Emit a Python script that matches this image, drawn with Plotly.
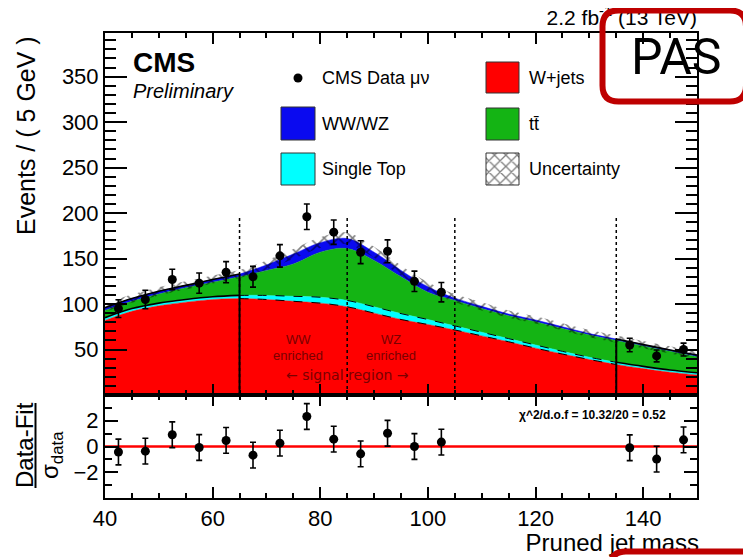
import numpy as np
import plotly.graph_objects as go

W, H = 751, 557
OFF = 8  # page body margin of the html page
FONT = "Liberation Sans, Arial, sans-serif"

# ---------------- data ----------------
mass_grid = [40, 45, 50, 55, 60, 65, 70, 75, 80, 85, 90, 95, 100, 105, 110, 115, 120, 125, 130, 135, 140, 145, 150]
wjets = [82, 92, 98, 102, 105, 106, 105, 103, 101, 97, 90, 83, 77.5, 71.5, 65, 58.5, 51.5, 45, 39, 33.5, 29, 25, 22]
single_top = [3, 3, 3, 3, 3, 3.5, 4.5, 5.5, 6.5, 7, 7, 6.5, 5.5, 4.5, 4, 3.5, 3.5, 3, 2.5, 2.5, 2.5, 2.5, 2.5]
ttbar = [8, 8, 10, 13, 16, 20.5, 27.5, 35.5, 49.5, 57, 51, 40.5, 30, 28, 26, 25, 25.5, 25, 24.5, 24, 22.5, 20.5, 17.5]
diboson = [3, 3, 3, 2.5, 3, 3, 6, 11, 10.5, 11, 9, 7, 6, 2.5, 2.5, 2, 2, 2, 1.5, 1.5, 1.5, 1.5, 2]
fit_unc = [4.5, 4.5, 4.5, 4.5, 4.5, 4.5, 5, 5.5, 6, 6.5, 6, 5.5, 5, 4.5, 4.5, 4, 4, 4, 4, 4, 4, 4, 4]

data_mass = [42.5, 47.5, 52.5, 57.5, 62.5, 67.5, 72.5, 77.5, 82.5, 87.5, 92.5, 97.5, 102.5, 137.5, 142.5, 147.5]
data_events = [95, 105, 127, 123, 135, 130, 153, 196, 179, 157, 158, 125, 113, 55, 43, 50]
pulls = [-0.43, -0.36, 0.91, -0.08, 0.47, -0.67, 0.26, 2.33, 0.57, -0.57, 1.03, 0.0, 0.34, -0.1, -0.98, 0.52]
pull_err = [1.0] * len(pulls)

signal_lo, signal_hi = 65, 135
region_edges = [65, 85, 105, 135]
edge_line_top = 197

x_ticks = [40, 60, 80, 100, 120, 140]
y_ticks = [0, 50, 100, 150, 200, 250, 300, 350]
pull_ticks = [-2, 0, 2]

# ---------------- derived stacks ----------------
g = np.array(mass_grid, float)
s1 = np.array(wjets, float)
s2 = s1 + np.array(single_top)
s3 = s2 + np.array(ttbar)
s4 = s3 + np.array(diboson)
unc = np.array(fit_unc)

C_RED, C_CYAN, C_GREEN, C_BLUE = "#FF0000", "#00FFFF", "#14B414", "#0A0AF0"


def fx(px):
    return px - OFF


def fy(py):
    return py - OFF


fig = go.Figure()


def stack(y, color, fill):
    fig.add_trace(go.Scatter(x=g, y=y, mode="lines", line=dict(color=color, width=0.5, shape="spline"),
                             fill=fill, fillcolor=color, xaxis="x", yaxis="y", hoverinfo="skip"))


stack(s1, C_RED, "tozeroy")
stack(s2, C_CYAN, "tonexty")
stack(s3, C_GREEN, "tonexty")
stack(s4, C_BLUE, "tonexty")

# uncertainty band (hatched)
fig.add_trace(go.Scatter(x=g, y=s4 - unc, mode="lines", line=dict(width=0, shape="spline"),
                         xaxis="x", yaxis="y", hoverinfo="skip"))
fig.add_trace(go.Scatter(x=g, y=s4 + unc, mode="lines", line=dict(width=0, shape="spline"),
                         fill="tonexty", fillcolor="rgba(0,0,0,0)",
                         fillpattern=dict(shape="x", fgcolor="black", size=10, solidity=0.3),
                         xaxis="x", yaxis="y", hoverinfo="skip"))

# fit lines: solid in sidebands, dashed in signal region
lo = g <= signal_lo
hi = g >= signal_hi
mid = (g >= signal_lo) & (g <= signal_hi)
for mask in (lo, hi):
    for yy in (s2, s4):
        fig.add_trace(go.Scatter(x=g[mask], y=yy[mask], mode="lines",
                                 line=dict(color="black", width=1.6, shape="spline"),
                                 xaxis="x", yaxis="y", hoverinfo="skip"))
for yy in (s1, s2):
    fig.add_trace(go.Scatter(x=g[mid], y=yy[mid], mode="lines",
                             line=dict(color="black", width=1, dash="dash", shape="spline"),
                             xaxis="x", yaxis="y", hoverinfo="skip"))

# solid vertical lines at signal region borders up to fit total
for xe in (signal_lo, signal_hi):
    fig.add_trace(go.Scatter(x=[xe, xe], y=[0, float(np.interp(xe, g, s4))], mode="lines",
                             line=dict(color="black", width=2), xaxis="x", yaxis="y", hoverinfo="skip"))

# data
fig.add_trace(go.Scatter(x=data_mass, y=data_events, mode="markers",
                         marker=dict(color="black", size=9),
                         error_y=dict(type="data", array=np.sqrt(data_events), color="black",
                                      thickness=1.6, width=3),
                         xaxis="x", yaxis="y", hoverinfo="skip"))

# pulls
fig.add_trace(go.Scatter(x=data_mass, y=pulls, mode="markers",
                         marker=dict(color="black", size=9),
                         error_y=dict(type="data", array=pull_err, color="black", thickness=1.6, width=3),
                         xaxis="x2", yaxis="y2", hoverinfo="skip"))


# ---------------- pixel overlay (legend, texts) ----------------
def box(x0, y0, x1, y1, color, pattern=False):
    kw = dict(fillpattern=dict(shape="x", fgcolor="black", size=8, solidity=0.3)) if pattern else {}
    fig.add_trace(go.Scatter(x=[fx(x0), fx(x1), fx(x1), fx(x0), fx(x0)],
                             y=[fy(y0), fy(y0), fy(y1), fy(y1), fy(y0)], mode="lines",
                             line=dict(color="#333333", width=1), fill="toself", fillcolor=color,
                             xaxis="x3", yaxis="y3", hoverinfo="skip", **kw))


box(281, 107, 315, 140, C_BLUE)
box(281, 153, 315, 185, C_CYAN)
box(486, 62, 519, 93, C_RED)
box(486, 108, 519, 140, C_GREEN)
box(486, 153, 519, 185, "white", pattern=True)
fig.add_trace(go.Scatter(x=[fx(298)], y=[fy(78)], mode="markers", marker=dict(color="black", size=9),
                         xaxis="x3", yaxis="y3", hoverinfo="skip"))


def ptext(txt, px, py, size, pos):
    fig.add_trace(go.Scatter(x=[fx(px)], y=[fy(py)], mode="text", text=[txt], textposition=pos,
                             textfont=dict(family=FONT, size=size, color="black"),
                             xaxis="x3", yaxis="y3", hoverinfo="skip", cliponaxis=False))


ptext("Pruned jet mass", 699, 545, 24, "middle left")
ptext("2.2 fb<sup>-1</sup> (13 TeV)", 697, 20, 21, "middle left")

# ---------------- axes ----------------
xd = [fx(105) / W, fx(697) / W]
yd_main = [1 - fy(395) / H, 1 - fy(33) / H]
yd_low = [1 - fy(498) / H, 1 - fy(395) / H]

common = dict(showline=True, linecolor="black", linewidth=2, mirror="allticks", ticks="inside",
              tickcolor="black", tickwidth=1.5, showgrid=False, zeroline=False, automargin=False,
              tickfont=dict(family=FONT, size=22, color="black"))

fig.update_layout(
    width=W, height=H, margin=dict(l=0, r=0, t=0, b=0),
    paper_bgcolor="white", plot_bgcolor="rgba(0,0,0,0)", showlegend=False,
    xaxis=dict(domain=xd, range=[40, 150], anchor="y", tickmode="array", tickvals=x_ticks,
               showticklabels=False, ticklen=11,
               minor=dict(tickmode="linear", tick0=40, dtick=5, ticklen=5, ticks="inside",
                          tickcolor="black", tickwidth=1.5), **common),
    yaxis=dict(domain=yd_main, range=[0, 398], anchor="x", tickmode="array", tickvals=y_ticks,
               ticktext=[""] + [str(v) for v in y_ticks[1:]], ticklen=22,
               minor=dict(tickmode="linear", tick0=0, dtick=10, ticklen=11, ticks="inside",
                          tickcolor="black", tickwidth=1.5), **common),
    xaxis2=dict(domain=xd, range=[40, 150], anchor="y2", tickmode="array", tickvals=x_ticks,
                ticklen=11,
                minor=dict(tickmode="linear", tick0=40, dtick=5, ticklen=5, ticks="inside",
                           tickcolor="black", tickwidth=1.5), **common),
    yaxis2=dict(domain=yd_low, range=[-4, 4], anchor="x2", tickmode="array", tickvals=pull_ticks,
                ticklen=13,
                minor=dict(tickmode="linear", tick0=-3, dtick=1, ticklen=7, ticks="inside",
                           tickcolor="black", tickwidth=1.5), **common),
    xaxis3=dict(domain=[0, 1], range=[0, W], anchor="y3", visible=False, fixedrange=True),
    yaxis3=dict(domain=[0, 1], range=[H, 0], anchor="x3", visible=False, fixedrange=True),
)

# ---------------- shapes ----------------
shapes = []
for xe in region_edges:
    shapes.append(dict(type="line", xref="x", yref="y", x0=xe, x1=xe, y0=0, y1=edge_line_top,
                       line=dict(color="black", width=1.5, dash="dot"), layer="above"))
shapes.append(dict(type="line", xref="x2 domain", yref="y2", x0=0, x1=1, y0=0, y1=0,
                   line=dict(color="#FF0000", width=2.5), layer="below"))


def rrect(x0, y0, x1, y1, r):
    x0, x1, y0, y1 = fx(x0), fx(x1), fy(y0), fy(y1)
    return (f"M {x0+r},{y0} L {x1-r},{y0} Q {x1},{y0} {x1},{y0+r} L {x1},{y1-r} Q {x1},{y1} {x1-r},{y1} "
            f"L {x0+r},{y1} Q {x0},{y1} {x0},{y1-r} L {x0},{y0+r} Q {x0},{y0} {x0+r},{y0} Z")


shapes.append(dict(type="path", xref="x3", yref="y3", path=rrect(602.5, 10.5, 746, 101.5, 16),
                   line=dict(color="#BE0000", width=6), fillcolor="rgba(0,0,0,0)", layer="above"))
shapes.append(dict(type="path", xref="x3", yref="y3", path=rrect(610, 551.5, 770, 640, 16),
                   line=dict(color="#BE0000", width=6), fillcolor="white", layer="above"))
shapes.append(dict(type="line", xref="paper", yref="paper", x0=fx(35.5) / W, x1=fx(35.5) / W,
                   y0=1 - fy(488) / H, y1=1 - fy(403) / H, line=dict(color="black", width=2)))
fig.update_layout(shapes=shapes)


# ---------------- annotations ----------------
def ann(text, px, py, size, xanchor="center", yanchor="middle", color="black", angle=0,
        family=FONT, weight="normal"):
    return dict(text=text, x=fx(px) / W, y=1 - fy(py) / H, xref="paper", yref="paper", showarrow=False,
                xanchor=xanchor, yanchor=yanchor, textangle=angle,
                font=dict(family=family, size=size, color=color, weight=weight))


DR = "#7A0000"
anns = [
    ann("<b>CMS</b>", 131, 62, 28, xanchor="left"),
    ann("<i>Preliminary</i>", 131, 91, 20, xanchor="left"),
    ann("CMS Data μν", 320, 78, 18, xanchor="left"),
    ann("WW/WZ", 320, 124, 18, xanchor="left"),
    ann("Single Top", 320, 169, 18, xanchor="left"),
    ann("W+jets", 527, 78, 18, xanchor="left"),
    ann("tt\u0304", 527, 124, 18, xanchor="left"),
    ann("Uncertainty", 527, 169, 18, xanchor="left"),
    ann("WW", 298, 340, 13, color=DR),
    ann("enriched", 298, 355, 13, color=DR),
    ann("WZ", 391, 340, 13, color=DR),
    ann("enriched", 391, 355, 13, color=DR),
    ann("\u2190 signal region \u2192", 347, 375, 14, color=DR, family="DejaVu Sans"),
    ann("<b>χ^2/d.o.f = 10.32/20 = 0.52</b>", 668, 415, 12, xanchor="right"),
    ann("Events / ( 5 GeV )", 26, 136, 25, angle=-90),
    ann("Data-Fit", 24, 445, 24, angle=-90),
    ann("σ<sub>data</sub>", 51, 455, 24, angle=-90),
    ann("PAS", 676, 57, 50, family="Roboto", weight=400),
]
fig.update_layout(annotations=anns)

fig.write_html("out.html")
